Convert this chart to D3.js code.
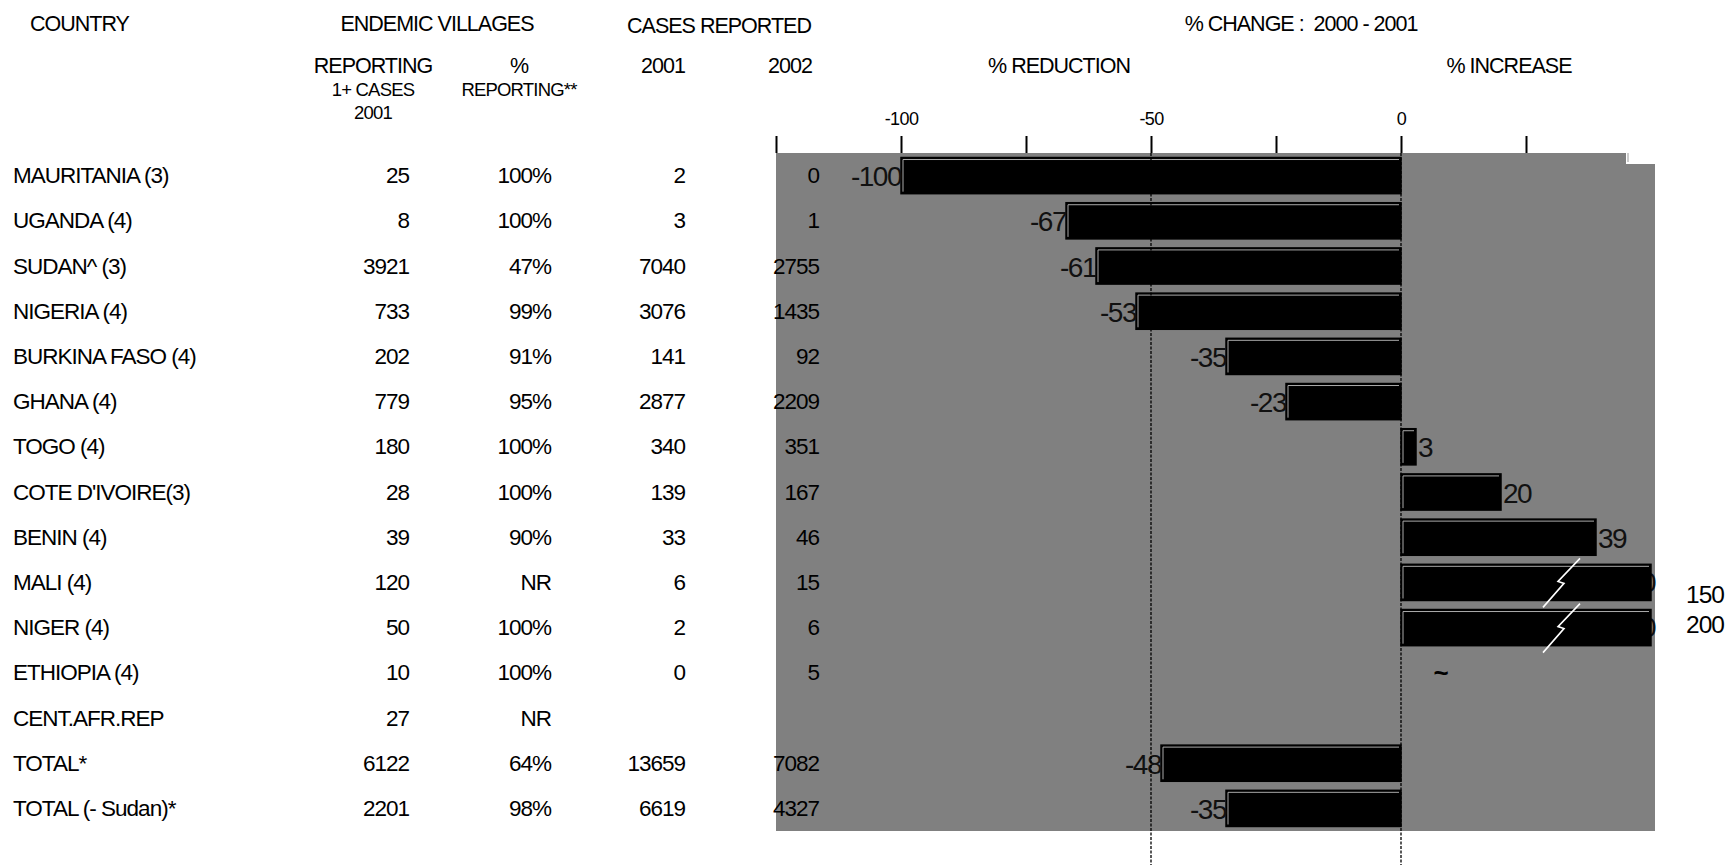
<!DOCTYPE html>
<html>
<head>
<meta charset="utf-8">
<script src="https://cdn.jsdelivr.net/npm/d3@7"></script>
<style>
  body { margin: 0; background: #fff; }
  svg { display: block; font-family: 'Liberation Sans', Arial, sans-serif; }
  svg text { white-space: pre; }
</style>
</head>
<body>
<div id="chart"></div>
<script>
// Guinea worm table: endemic villages, cases and % change
const countries = ['MAURITANIA (3)', 'UGANDA (4)', 'SUDAN^ (3)', 'NIGERIA (4)', 'BURKINA FASO (4)',
  'GHANA (4)', 'TOGO (4)', "COTE D'IVOIRE(3)", 'BENIN (4)', 'MALI (4)', 'NIGER (4)',
  'ETHIOPIA (4)', 'CENT.AFR.REP', 'TOTAL*', 'TOTAL (- Sudan)*'];
const villagesReporting = [25, 8, 3921, 733, 202, 779, 180, 28, 39, 120, 50, 10, 27, 6122, 2201];
const pctReporting = ['100%', '100%', '47%', '99%', '91%', '95%', '100%', '100%', '90%', 'NR', '100%', '100%', 'NR', '64%', '98%'];
const cases2001 = [2, 3, 7040, 3076, 141, 2877, 340, 139, 33, 6, 2, 0, null, 13659, 6619];
const cases2002 = [0, 1, 2755, 1435, 92, 2209, 351, 167, 46, 15, 6, 5, null, 7082, 4327];
const pctChange = [-100, -67, -61, -53, -35, -23, 3, 20, 39, 150, 200, null, null, -48, -35];
const noBaseMark = { 'ETHIOPIA (4)': '~' };   // no 2001 cases -> no % change
const axisTicks = [-125, -100, -75, -50, -25, 0, 25];
const axisLabels = [-100, -50, 0];
const refLines = [-50, 0];

const width = 1726, height = 865;
const svg = d3.select('#chart').append('svg')
  .attr('width', width).attr('height', height);

const x = d3.scaleLinear().domain([-125, 50]).range([776, 1651]);
const y = d3.scaleBand().domain(countries).range([153, 831])
  .paddingInner(0.2).paddingOuter(0.1);
const xMax = x.domain()[1];

// plot background
svg.append('rect')
  .attr('x', x(-125)).attr('y', y.range()[0])
  .attr('width', x(xMax) + 4 - x(-125)).attr('height', y.range()[1] - y.range()[0])
  .attr('fill', '#808080');
// small notch at top right
svg.append('rect')
  .attr('x', x(45)).attr('y', y.range()[0] - 1)
  .attr('width', x(xMax) + 5 - x(45)).attr('height', 12)
  .attr('fill', '#fff');
svg.append('line')
  .attr('x1', x(45) + 2).attr('x2', x(45) + 2)
  .attr('y1', y.range()[0]).attr('y2', y.range()[0] + 9)
  .attr('stroke', '#bbb').attr('stroke-width', 1.5);

// headers
const hdr = svg.append('g').attr('fill', '#000');
const head = (tx, ty, s, small, anchor) => hdr.append('text').attr('x', tx).attr('y', ty)
  .attr('text-anchor', anchor || 'middle')
  .attr('font-size', small ? 18.5 : 21.5)
  .attr('letter-spacing', small ? -0.8 : -1)
  .text(s);
head(30, 31, 'COUNTRY', false, 'start');
head(437, 31, 'ENDEMIC VILLAGES');
head(719, 33, 'CASES REPORTED');
head(1301, 31, '% CHANGE :  2000 - 2001');
head(373, 73, 'REPORTING');
head(373, 96, '1+ CASES', true);
head(373, 119, '2001', true);
head(519, 73, '%');
head(519, 96, 'REPORTING**', true);
head(663, 73, '2001');
head(790, 73, '2002');
head(1059, 73, '% REDUCTION');
head(1509, 73, '% INCREASE');

// axis on top
const axis = svg.append('g')
  .attr('transform', `translate(0,${y.range()[0]})`)
  .call(d3.axisTop(x).tickValues(axisTicks).tickSize(17).tickPadding(11)
    .tickFormat(d => axisLabels.includes(d) ? d : ''));
axis.select('.domain').remove();
axis.selectAll('.tick line').attr('stroke', '#000').attr('stroke-width', 2);
axis.selectAll('.tick text').attr('font-size', 18).attr('letter-spacing', -0.6).attr('fill', '#000')
  .attr('font-family', "'Liberation Sans', Arial, sans-serif");

// table columns
const rowY = d => y(d) + y.bandwidth() / 2;
const table = svg.append('g').attr('font-size', 22.5).attr('letter-spacing', -1)
  .attr('fill', '#000').attr('dominant-baseline', 'central');
const column = (vals, xr, anchor) => table.append('g')
  .selectAll('text').data(countries).enter().append('text')
  .attr('x', xr).attr('y', d => rowY(d))
  .attr('text-anchor', anchor)
  .text((d, i) => vals[i] == null ? '' : vals[i]);
column(countries, 13, 'start');
column(villagesReporting, 409, 'end');
column(pctReporting, 551, 'end');
column(cases2001, 685, 'end');
column(cases2002, 819, 'end');

// bars
const rows = countries.map((c, i) => ({ c, v: pctChange[i] }));
const barRows = rows.filter(r => r.v != null);
const clampV = v => Math.max(x.domain()[0], Math.min(xMax, v));

// labels of clipped bars sit under the bar end
svg.append('g').selectAll('text')
  .data(barRows.filter(r => r.v > xMax)).enter().append('text')
  .attr('x', x(xMax) + 4).attr('y', r => rowY(r.c))
  .attr('text-anchor', 'end').attr('dominant-baseline', 'central')
  .attr('font-size', 28).attr('letter-spacing', -1.5).attr('fill', '#111').text(r => r.v);

const bars = svg.append('g');
bars.selectAll('rect').data(barRows).enter().append('rect')
  .attr('x', r => x(Math.min(0, clampV(r.v))))
  .attr('y', r => y(r.c))
  .attr('width', r => Math.abs(x(clampV(r.v)) - x(0)))
  .attr('height', y.bandwidth())
  .attr('fill', '#000').attr('stroke', '#000').attr('stroke-width', 1.5);
bars.selectAll('path').data(barRows).enter().append('path')
  .attr('d', r => {
    const x0 = x(Math.min(0, clampV(r.v))) + 2;
    const x1 = x(Math.max(0, clampV(r.v))) - 2;
    const y0 = y(r.c) + 2, y1 = y(r.c) + y.bandwidth() - 2;
    return `M${x0},${y1}V${y0}H${x1}`;
  })
  .attr('fill', 'none').attr('stroke', '#aaa').attr('stroke-width', 1);

// value labels
svg.append('g').selectAll('text')
  .data(barRows.filter(r => r.v <= xMax)).enter().append('text')
  .attr('x', r => r.v < 0 ? x(r.v) : x(r.v) + 2)
  .attr('y', r => rowY(r.c) + 1)
  .attr('text-anchor', r => r.v < 0 ? 'end' : 'start')
  .attr('dominant-baseline', 'central')
  .attr('font-size', 28).attr('letter-spacing', -1.5).attr('fill', '#111')
  .text(r => r.v);

// break marks on clipped bars
svg.append('g').selectAll('path')
  .data(barRows.filter(r => r.v > xMax)).enter().append('path')
  .attr('d', r => {
    const cx = x(32), cy = rowY(r.c) + 1;
    return `M${cx + 19},${cy - 25}L${cx - 3},${cy - 2}L${cx + 3},${cy}L${cx - 18},${cy + 24}`;
  })
  .attr('fill', 'none').attr('stroke', '#fff').attr('stroke-width', 1.6);

// true values shown outside the plot
svg.append('g').selectAll('text')
  .data(barRows.filter(r => r.v > xMax)).enter().append('text')
  .attr('x', 1724).attr('y', (r, i) => rowY(r.c) + (i === 0 ? 12 : -3))
  .attr('text-anchor', 'end').attr('dominant-baseline', 'central')
  .attr('font-size', 24.5).attr('letter-spacing', -1).attr('fill', '#000').text(r => r.v);

// no-base marker
svg.append('g').selectAll('text')
  .data(rows.filter(r => noBaseMark[r.c])).enter().append('text')
  .attr('x', x(8)).attr('y', r => rowY(r.c))
  .attr('text-anchor', 'middle').attr('dominant-baseline', 'central')
  .attr('font-size', 26).attr('font-weight', 'bold').attr('fill', '#000')
  .text(r => noBaseMark[r.c]);

// dashed reference lines
svg.append('g').selectAll('line').data(refLines).enter().append('line')
  .attr('x1', d => x(d)).attr('x2', d => x(d))
  .attr('y1', y.range()[0]).attr('y2', height)
  .attr('stroke', '#000').attr('stroke-width', 1.3)
  .attr('stroke-dasharray', '3,1.5');
</script>
</body>
</html>
